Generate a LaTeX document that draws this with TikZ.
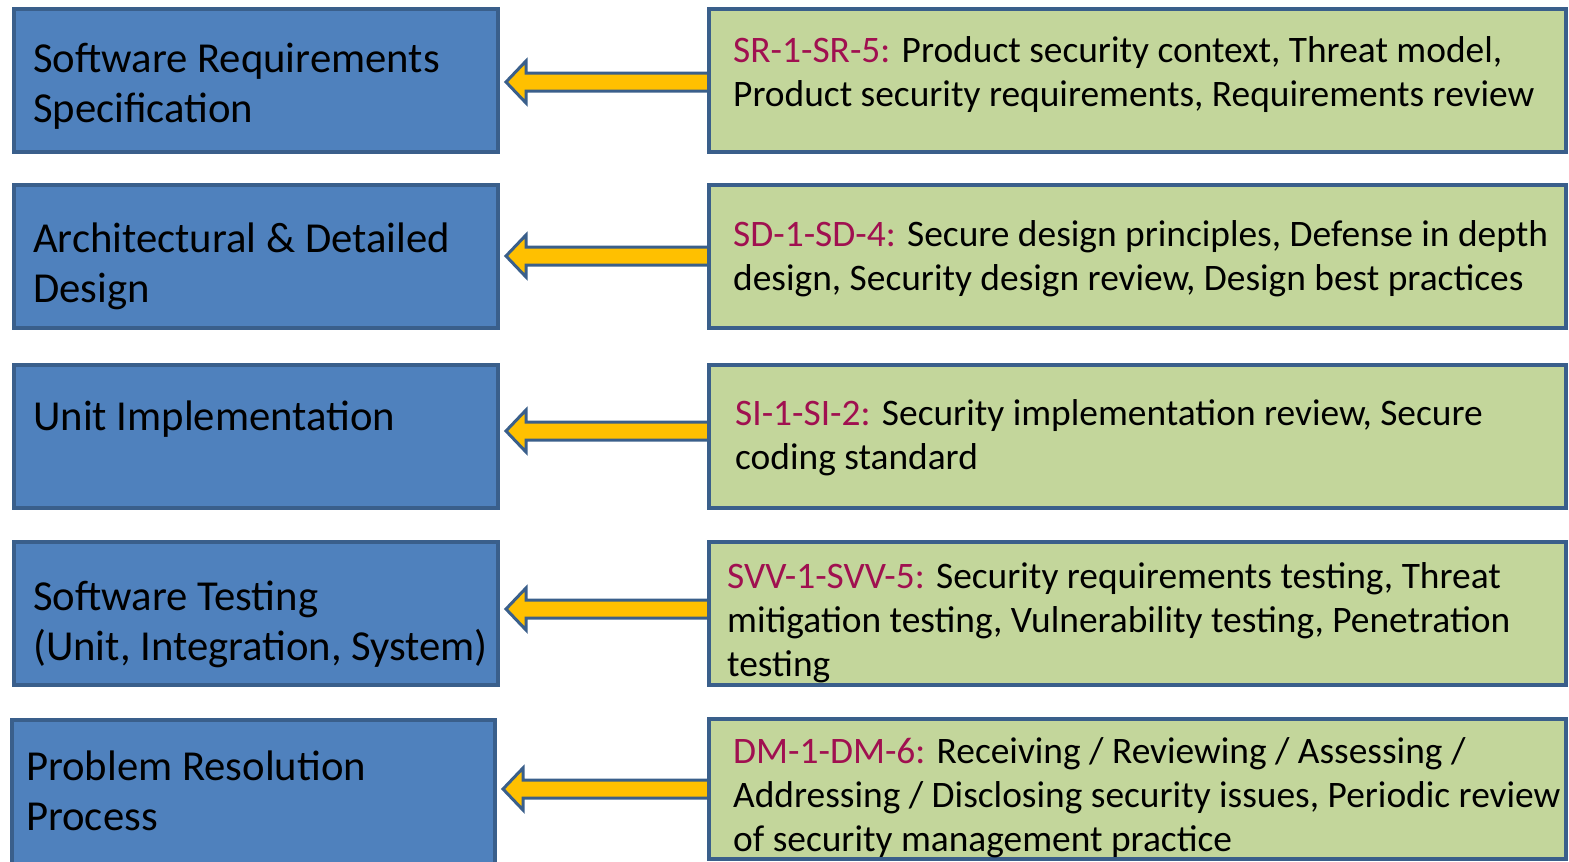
\documentclass[tikz,border=0pt]{standalone}
\usepackage{fontspec}
\setmainfont{Carlito}
\usetikzlibrary{calc}
\definecolor{bfill}{HTML}{4F81BD}
\definecolor{bline}{HTML}{3A5F8B}
\definecolor{gfill}{HTML}{C3D69B}
\definecolor{lab}{RGB}{160,16,80}
\definecolor{arr}{HTML}{FFC000}
\tikzset{
  lbox/.style={rectangle, draw=bline, fill=bfill, line width=4pt, inner sep=0pt, outer sep=0pt, anchor=north west, minimum width=484pt, minimum height=143pt},
  rbox/.style={rectangle, draw=bline, fill=gfill, line width=4pt, inner sep=0pt, outer sep=0pt, anchor=north west, minimum width=857pt, minimum height=143pt},
  ltext/.style={anchor=base west, inner sep=0pt, font=\fontsize{42.7}{50}\selectfont},
  rtext/.style={anchor=base west, inner sep=0pt, font=\fontsize{37.4}{44}\selectfont},
  arrowbody/.style={draw=bline, fill=arr, line width=3pt, line join=miter}
}
\newcommand\rowarrow[3]{%
  \coordinate (tip#3) at ($(#1.east |- 0,#2)+(8,0)$);
  \path let \p1=(tip#3), \p2=(r#3.west) in coordinate (tail#3) at (\x2,\y1);
  \draw[arrowbody] let \p1=(tip#3), \p2=(tail#3) in
    (\p1) -- (\x1+20pt,\y1+21pt) -- (\x1+20pt,\y1+9pt) -- (\x2,\y1+9pt)
    -- (\x2,\y1-9pt) -- (\x1+20pt,\y1-9pt) -- (\x1+20pt,\y1-21pt) -- cycle;
}
\begin{document}
\begin{tikzpicture}[x=1pt,y=-1pt]
\useasboundingbox (0,0) rectangle (1569,862);
\clip (0,0) rectangle (1569,862);
% left boxes
\node[lbox] (l1) at (14,9) {};
\node[lbox] (l2) at (14,185) {};
\node[lbox] (l3) at (14,365) {};
\node[lbox] (l4) at (14,542) {};
\node[lbox, minimum width=483pt, minimum height=150pt] (l5) at (12,720) {};
% right boxes
\node[rbox] (r1) at (709,9) {};
\node[rbox] (r2) at (709,185) {};
\node[rbox] (r3) at (709,365) {};
\node[rbox] (r4) at (709,542) {};
\node[rbox, minimum height=140pt] (r5) at (709,719) {};
% arrows from right boxes to left boxes
\rowarrow{l1}{82}{1}
\rowarrow{l2}{256}{2}
\rowarrow{l3}{431}{3}
\rowarrow{l4}{609}{4}
\rowarrow{l5}{789}{5}
% redraw right box borders over the arrow tails
\foreach \i in {1,...,5} {\draw[bline, line width=4pt] (r\i.north west) -- (r\i.south west);}
% left texts
\node[ltext] (t1) at (33,72) {\parbox[t]{470pt}{Software Requirements\\Specification}};
\node[ltext] (t2) at (33,252) {\parbox[t]{470pt}{Architectural \& Detailed\\Design}};
\node[ltext] (t3) at (33,430) {\parbox[t]{470pt}{Unit Implementation}};
\node[ltext] (t4) at (33,610) {\parbox[t]{470pt}{Software Testing\\(Unit, Integration, System)}};
\node[ltext] (t5) at (26,780) {\parbox[t]{470pt}{Problem Resolution\\Process}};
% right texts
\node[rtext] (s1) at (733,62) {\parbox[t]{840pt}{\textcolor{lab}{SR-1-SR-5:} Product security context, Threat model,\\Product security requirements, Requirements review}};
\node[rtext] (s2) at (733,246) {\parbox[t]{840pt}{\textcolor{lab}{SD-1-SD-4:} Secure design principles, Defense in depth\\design, Security design review, Design best practices}};
\node[rtext] (s3) at (735,425) {\parbox[t]{840pt}{\textcolor{lab}{SI-1-SI-2:} Security implementation review, Secure\\coding standard}};
\node[rtext] (s4) at (727,588) {\parbox[t]{840pt}{\textcolor{lab}{SVV-1-SVV-5:} Security requirements testing, Threat\\mitigation testing, Vulnerability testing, Penetration\\testing}};
\node[rtext] (s5) at (733,763) {\parbox[t]{840pt}{\textcolor{lab}{DM-1-DM-6:} Receiving / Reviewing / Assessing /\\Addressing / Disclosing security issues, Periodic review\\of security management practice}};
\end{tikzpicture}
\end{document}
